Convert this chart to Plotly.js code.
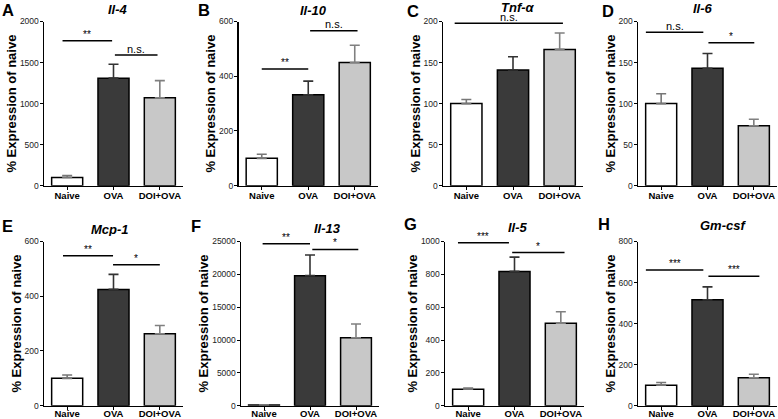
<!DOCTYPE html>
<html><head><meta charset="utf-8">
<script src="https://cdn.plot.ly/plotly-3.0.1.min.js"></script>
<style>html,body{margin:0;padding:0;background:#fff}#chart{width:778px;height:419px}</style>
</head><body><div id="chart"></div>
<script>
// ---- data ----
const groups = ['Naive', 'OVA', 'DOI+OVA'];
const genes = ['Il-4', 'Il-10', 'Tnf-α', 'Il-6', 'Mcp-1', 'Il-13', 'Il-5', 'Gm-csf'];
const panelLetters = ['A', 'B', 'C', 'D', 'E', 'F', 'G', 'H'];
const meanNaive = [100, 100, 100, 100, 100, 100, 100, 100];
const meanOVA   = [1310, 332, 141, 143, 425, 19800, 818, 516];
const meanDOI   = [1070, 450, 166, 73, 263, 10350, 502, 136];
const semNaive  = [25, 15, 5, 12, 12, 40, 8, 13];
const semOVA    = [170, 50, 16, 18, 55, 3150, 87, 63];
const semDOI    = [210, 63, 20, 8, 30, 2100, 70, 17];
const yMax      = [2000, 600, 200, 200, 600, 25000, 1000, 800];
const yStep     = [500, 200, 50, 50, 200, 5000, 200, 200];
const sigStart  = [[-0.1, 1.03], [0, 1.04], [-0.25], [-0.33, 1.02], [-0.09, 0.99], [-0.03, 1.05], [-0.22, 0.95], [-0.33, 1.02]];
const sigEnd    = [[0.97, 1.95], [1.0, 2.06], [2.07], [0.91, 2.01], [0.99, 2.0], [1.0, 2.05], [0.88, 2.08], [0.91, 2.12]];
const sigLevel  = [[1766, 1592], [426, 566], [198], [187, 174], [548, 515], [24646, 23785], [992, 933], [661, 631]];
const sigText   = [['**', 'n.s.'], ['**', 'n.s.'], ['n.s.'], ['n.s.', '*'], ['**', '*'], ['**', '*'], ['***', '*'], ['***', '***']];

// ---- layout constants (pixels) ----
const W = 778, H = 419;
const xDom = [[44, 183], [238.5, 378], [443, 583], [638, 777], [44, 183], [241, 379], [445, 584], [638, 777]];
const yDomTop = [21.5, 185.7], yDomBot = [241.5, 405.7];
const titlePos = [[118, 9], [313, 10], [518, 7], [703, 8.5], [110, 230], [327, 228], [518, 227], [723, 225]];
const letterPos = [[7.5, 10], [204, 10], [412.5, 10.5], [607.5, 10.5], [7.5, 226], [196, 226], [410, 224], [604, 224]];
const barColors = ['#ffffff', '#3a3a3a', '#c8c8c8'];
const errColors = ['#777777', '#333333', '#808080'];
const FONT = 'Liberation Sans, Arial, sans-serif';

const traces = [], layout = {
  width: W, height: H, margin: {l: 0, r: 0, t: 0, b: 0},
  paper_bgcolor: '#fff', plot_bgcolor: '#fff', showlegend: false,
  barmode: 'overlay', font: {family: FONT, color: '#000'},
  shapes: [], annotations: []
};
const means = [meanNaive, meanOVA, meanDOI], sems = [semNaive, semOVA, semDOI];

for (let p = 0; p < 8; p++) {
  const n = p + 1, xa = 'x' + (n === 1 ? '' : n), ya = 'y' + (n === 1 ? '' : n);
  const xk = 'xaxis' + (n === 1 ? '' : n), yk = 'yaxis' + (n === 1 ? '' : n);
  const yd = p < 4 ? yDomTop : yDomBot;
  for (let g = 0; g < 3; g++) {
    traces.push({
      type: 'bar', x: [g], y: [means[g][p]], width: 0.67, xaxis: xa, yaxis: ya,
      marker: {color: barColors[g], line: {color: '#000', width: 1.5}},
      error_y: {type: 'data', symmetric: false, array: [sems[g][p]], arrayminus: [0],
                color: errColors[g], thickness: 1.6, width: 5},
      hoverinfo: 'skip'
    });
  }
  layout[xk] = {
    domain: [xDom[p][0] / W, xDom[p][1] / W], anchor: ya, range: [-0.5, 2.5],
    tickvals: [0, 1, 2], ticktext: groups, showline: true, linecolor: '#000', linewidth: 1.5,
    ticks: 'outside', ticklen: 3, tickwidth: 1, tickcolor: '#000', showgrid: false, zeroline: false,
    ticklabelstandoff: p < 4 ? -3 : -5,
    tickfont: {family: FONT, size: 9.5, color: '#000', weight: 'bold'}, fixedrange: true
  };
  layout[yk] = {
    domain: [1 - yd[1] / H, 1 - yd[0] / H], anchor: xa, range: [0, yMax[p]], dtick: yStep[p], tick0: 0,
    tickformat: 'd',
    showline: true, linecolor: '#000', linewidth: 1.5, ticks: 'outside', ticklen: 3, tickwidth: 1,
    tickcolor: '#000', showgrid: false, zeroline: false, ticklabelstandoff: -1,
    tickfont: {family: FONT, size: 8.5, color: '#222'}, fixedrange: true,
    title: {text: '% Expression of naive', standoff: 0,
            font: {family: FONT, size: 13, color: '#000', weight: 'bold'}}
  };
  for (let s = 0; s < sigText[p].length; s++) {
    layout.shapes.push({type: 'line', xref: xa, yref: ya, x0: sigStart[p][s], x1: sigEnd[p][s],
      y0: sigLevel[p][s], y1: sigLevel[p][s], line: {color: '#000', width: 1.5}});
    layout.annotations.push({xref: xa, yref: ya, x: (sigStart[p][s] + sigEnd[p][s]) / 2, y: sigLevel[p][s],
      text: sigText[p][s], showarrow: false, yanchor: 'bottom', yshift: sigText[p][s] === 'n.s.' ? -1.5 : -1,
      font: {family: FONT, size: sigText[p][s] === 'n.s.' ? 11 : 10, color: '#000'}});
  }
  layout.annotations.push({xref: 'paper', yref: 'paper', x: titlePos[p][0] / W, y: 1 - titlePos[p][1] / H,
    xanchor: 'center', yanchor: 'middle', showarrow: false, height: 13,
    text: '<b><i>' + genes[p] + '</i></b>', font: {family: FONT, size: 13, color: '#000'}});
  layout.annotations.push({xref: 'paper', yref: 'paper', x: letterPos[p][0] / W, y: 1 - letterPos[p][1] / H,
    xanchor: 'center', yanchor: 'middle', showarrow: false,
    text: '<b>' + panelLetters[p] + '</b>', font: {family: FONT, size: 16.5, color: '#000'}});
}
Plotly.newPlot('chart', traces, layout, {staticPlot: true, displayModeBar: false});
</script></body></html>
